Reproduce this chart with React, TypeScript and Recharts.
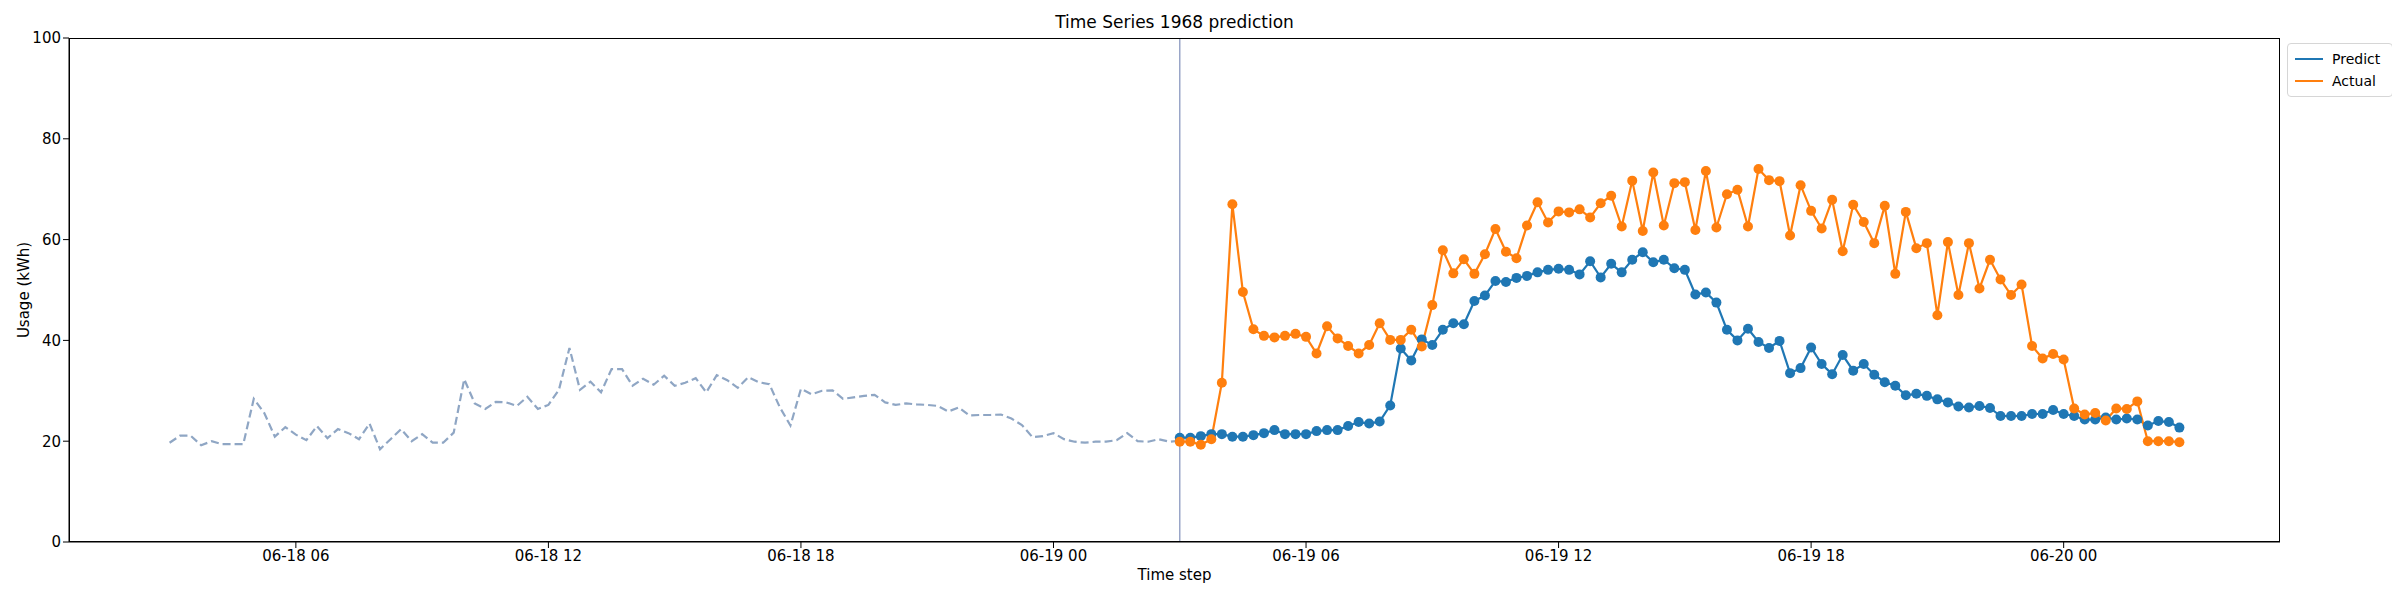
import { ComposedChart, Line, ReferenceLine, XAxis, YAxis } from 'recharts';

// 15-minute steps; hours counted from 06-18 00:00
const historyStart = 3;
const predictStart = 27;

const history = [
  19.7, 21.1, 21.1, 19.2, 20.0, 19.4, 19.4, 19.4, 28.4, 25.6, 20.9, 22.8, 21.3, 20.2, 23.0, 20.6,
  22.4, 21.6, 20.4, 23.5, 18.4, 20.4, 22.4, 20.0, 21.4, 19.7, 19.7, 21.7, 32.3, 27.5, 26.4, 27.8,
  27.7, 27.0, 28.8, 26.4, 27.2, 30.2, 38.5, 30.2, 31.8, 29.7, 34.3, 34.3, 31.0, 32.4, 31.2, 33.0,
  31.0, 31.6, 32.5, 29.7, 33.1, 32.1, 30.6, 32.7, 31.7, 31.3, 26.7, 23.1, 30.4, 29.3, 30.0, 30.1,
  28.4, 28.7, 29.0, 29.2, 27.7, 27.2, 27.5, 27.3, 27.2, 27.0, 25.9, 26.7, 25.1, 25.2, 25.2, 25.3,
  24.5, 23.2, 20.8, 21.0, 21.6, 20.4, 19.9, 19.7, 19.9, 19.9, 20.2, 21.6, 20.0, 19.9, 20.4, 19.9,
  20.1,
];

const predict = [
  20.7, 20.7, 21.0, 21.4, 21.4, 20.9, 20.9, 21.2, 21.6, 22.2, 21.4, 21.4, 21.4, 22.0, 22.2, 22.2,
  23.0, 23.8, 23.5, 23.9, 27.1, 38.4, 36.0, 40.2, 39.1, 42.1, 43.4, 43.2, 47.8, 48.9, 51.8, 51.6,
  52.4, 52.8, 53.5, 54.0, 54.2, 54.0, 53.1, 55.7, 52.5, 55.2, 53.5, 56.0, 57.5, 55.5, 56.0, 54.3,
  54.0, 49.1, 49.5, 47.5, 42.1, 40.0, 42.3, 39.7, 38.5, 39.9, 33.5, 34.5, 38.6, 35.3, 33.3, 37.1,
  34.0, 35.3, 33.2, 31.7, 31.0, 29.1, 29.4, 29.0, 28.3, 27.7, 26.9, 26.7, 27.0, 26.6, 25.0, 25.0,
  25.0, 25.4, 25.4, 26.2, 25.4, 25.0, 24.3, 24.3, 24.7, 24.3, 24.5, 24.3, 23.1, 24.0, 23.8, 22.7,
];

const actual = [
  19.9, 19.9, 19.3, 20.4, 31.6, 67.0, 49.6, 42.2, 40.9, 40.6, 40.9, 41.3, 40.7, 37.4, 42.8, 40.4,
  38.9, 37.4, 39.1, 43.4, 40.1, 40.1, 42.1, 38.8, 47.0, 57.9, 53.3, 56.1, 53.2, 57.1, 62.1, 57.6,
  56.3, 62.8, 67.4, 63.4, 65.6, 65.4, 66.0, 64.4, 67.2, 68.7, 62.6, 71.7, 61.7, 73.3, 62.8, 71.2,
  71.4, 61.9, 73.6, 62.4, 69.0, 69.9, 62.6, 74.0, 71.8, 71.6, 60.8, 70.8, 65.7, 62.2, 67.9, 57.7,
  66.9, 63.5, 59.3, 66.7, 53.2, 65.5, 58.3, 59.3, 45.0, 59.5, 49.0, 59.3, 50.3, 56.0, 52.1, 49.0,
  51.1, 38.9, 36.4, 37.3, 36.2, 26.5, 25.3, 25.6, 24.1, 26.5, 26.4, 27.9, 20.0, 20.0, 20.0, 19.8,
];

const xTicks = [6, 12, 18, 24, 30, 36, 42, 48];
const xTickLabels = ['06-18 06', '06-18 12', '06-18 18', '06-19 00', '06-19 06', '06-19 12', '06-19 18', '06-20 00'];
const yTicks = [0, 20, 40, 60, 80, 100];

type Row = { t: number; hist?: number; pred?: number; act?: number };

const rowsByStep = new Map<number, Row>();
const rowAt = (t: number) => {
  const key = Math.round(t * 4);
  if (!rowsByStep.has(key)) rowsByStep.set(key, { t });
  return rowsByStep.get(key)!;
};
history.forEach((v, i) => (rowAt(historyStart + i / 4).hist = v));
predict.forEach((v, i) => (rowAt(predictStart + i / 4).pred = v));
actual.forEach((v, i) => (rowAt(predictStart + i / 4).act = v));
const data = [...rowsByStep.values()].sort((a, b) => a.t - b.t);

const FONT = 'DejaVu Sans, sans-serif';
const tickStyle = { fontSize: 15, fill: '#000', fontFamily: FONT };

// plot box inside the chart svg
const PLOT = { left: 61, top: 30, width: 2211, height: 504 };

export default function App() {
  return (
    <div style={{ position: 'relative', width: 2384, height: 584, fontFamily: FONT, background: '#fff' }}>
      <div style={{ position: 'absolute', top: 4, left: PLOT.left, width: PLOT.width, textAlign: 'center', fontSize: 17 }}>
        Time Series 1968 prediction
      </div>
      <ComposedChart width={2384} height={584} data={data} margin={{ top: 30, right: 112, bottom: 40, left: 6 }}>
        <XAxis
          dataKey="t"
          type="number"
          domain={[0.61, 53.14]}
          ticks={xTicks}
          tickFormatter={(v: number) => xTickLabels[xTicks.indexOf(v)]}
          tick={tickStyle}
          tickSize={6}
          stroke="#000"
          height={10}
          allowDataOverflow
        />
        <YAxis domain={[0, 100]} ticks={yTicks} tick={tickStyle} tickSize={6} stroke="#000" width={55} />
        <ReferenceLine x={predictStart} stroke="#9aa6c8" strokeWidth={1.5} />
        <Line
          dataKey="hist"
          stroke="#8fa6c4"
          strokeWidth={2.2}
          strokeDasharray="8 4"
          dot={false}
          connectNulls
          isAnimationActive={false}
        />
        <Line
          dataKey="pred"
          stroke="#1f77b4"
          strokeWidth={2.2}
          dot={{ r: 5, fill: '#1f77b4', stroke: 'none' }}
          connectNulls
          isAnimationActive={false}
        />
        <Line
          dataKey="act"
          stroke="#ff7f0e"
          strokeWidth={2.2}
          dot={{ r: 5, fill: '#ff7f0e', stroke: 'none' }}
          connectNulls
          isAnimationActive={false}
        />
      </ComposedChart>
      {/* axes frame */}
      <div
        style={{
          position: 'absolute',
          left: PLOT.left,
          top: PLOT.top,
          width: PLOT.width,
          height: PLOT.height,
          border: '1.5px solid #000',
          boxSizing: 'border-box',
          pointerEvents: 'none',
        }}
      />
      <div style={{ position: 'absolute', top: 558, left: PLOT.left, width: PLOT.width, textAlign: 'center', fontSize: 15 }}>
        Time step
      </div>
      <div
        style={{
          position: 'absolute',
          left: 0,
          top: PLOT.top + PLOT.height / 2,
          width: 0,
          fontSize: 15,
          whiteSpace: 'nowrap',
        }}
      >
        <div style={{ transform: 'translate(7px, 0) rotate(-90deg) translate(-50%, 0)', transformOrigin: '0 0', position: 'absolute', top: 0, left: 0 }}>
          Usage (kWh)
        </div>
      </div>
      <div
        style={{
          position: 'absolute',
          left: 2279,
          top: 35,
          width: 90,
          border: '1px solid #d6d6d6',
          borderRadius: 4,
          padding: '4px 7px',
          fontSize: 14,
          lineHeight: '22px',
          background: '#fff',
        }}
      >
        {[
          ['Predict', '#1f77b4'],
          ['Actual', '#ff7f0e'],
        ].map(([name, color]) => (
          <div key={name} style={{ display: 'flex', alignItems: 'center' }}>
            <span style={{ display: 'inline-block', width: 28, height: 2.5, background: color, marginRight: 9 }} />
            {name}
          </div>
        ))}
      </div>
    </div>
  );
}
